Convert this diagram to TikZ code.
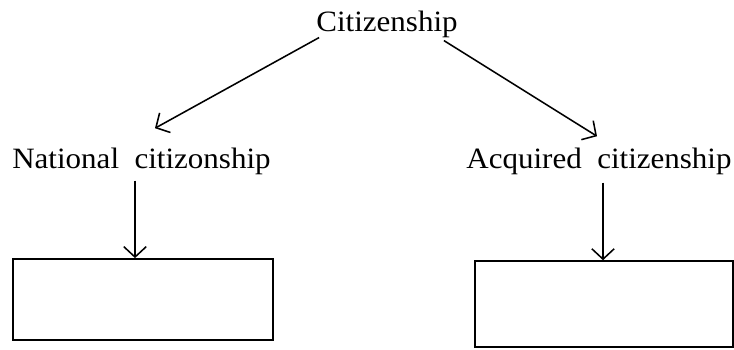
\documentclass[tikz,border=0pt]{standalone}
\usepackage{fontspec}
\setmainfont{Liberation Serif}[FakeStretch=1.05,WordSpace=2.0]
\usepackage{tikz}
\usetikzlibrary{calc,arrows.meta}

\begin{document}
\begin{tikzpicture}[x=0.025cm,y=0.025cm]
    \tikzset{txt/.style={inner sep=0pt,anchor=base,font=\fontsize{21}{25}\selectfont},
             box/.style={draw,line width=1.1pt,inner sep=0pt},
             arr/.style={line width=1.1pt,-{Straight Barb[length=2.6mm,width=5.6mm]}}};
    \useasboundingbox (0,0) rectangle (734,349);
	\node (C) at (387,317) [txt]{Citizenship};
	\node (N) at (141.5,181) [txt]{National citizonship};
	\node (A) at (599,181) [txt]{Acquired citizenship};
	\node (Nbox) at (143,49.5) [box,minimum width=6.5cm,minimum height=2.03cm]{};
	\node (Abox) at (604,45) [box,minimum width=6.45cm,minimum height=2.15cm]{};
	\draw[arr] ($(C.south west)+(3,1)$) -- ($(N.north)+(13.5,19)$);
	\draw[arr] ($(C.south east)+(-14,-2)$) -- ($(A.north)+(-2,11)$);
	\coordinate (n1) at ($(N.south)+(-6.5,-6)$);
	\coordinate (a1) at ($(A.south)+(4,-8)$);
	\draw[arr] (n1) -- (n1 |- Nbox.north);
	\draw[arr] (a1) -- (a1 |- Abox.north);
\end{tikzpicture}
\end{document}
